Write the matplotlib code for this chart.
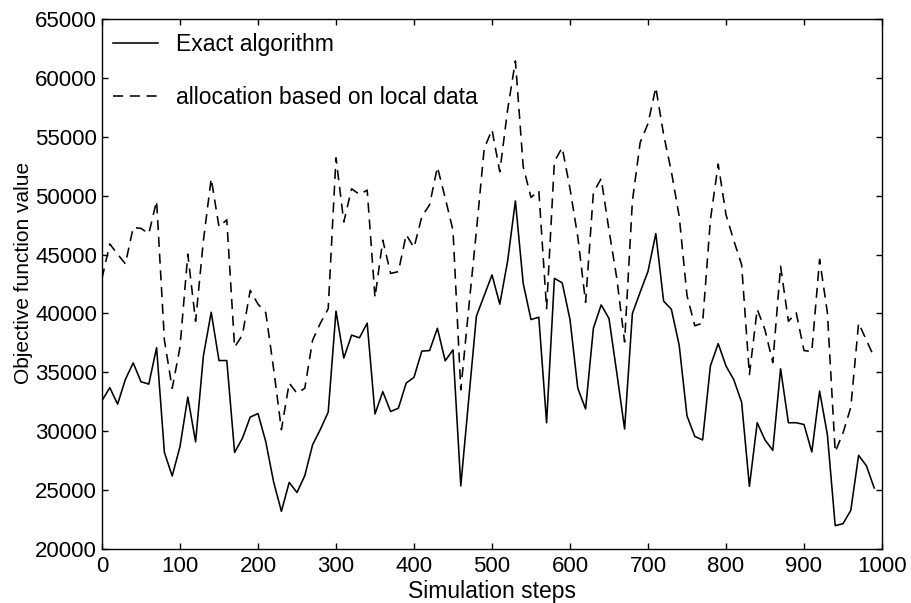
import numpy as np
import matplotlib
matplotlib.use("Agg")
import matplotlib.pyplot as plt

plt.rcParams['font.family'] = ['Liberation Sans', 'DejaVu Sans']

steps = list(range(0, 1000, 10))

exact = [
    32600, 33700, 32300, 34400, 35800, 34200, 34000, 37100, 28200, 26200,
    28700, 32900, 29100, 36400, 40100, 36000, 36000, 28200, 29400, 31200,
    31500, 29100, 25700, 23200, 25650, 24800, 26230, 28850, 30160, 31620,
    40200, 36210, 38160, 37930, 39180, 31470, 33360, 31670, 31960, 34090,
    34580, 36800, 36850, 38740, 35980, 36910, 25360, 32600, 39770, 41520,
    43270, 40790, 44440, 49550, 42550, 39480, 39680, 30720, 42980, 42600,
    39480, 33640, 31890, 38750, 40730, 39570, 34950, 30190, 40000, 41820,
    43570, 46780, 41050, 40350, 37290, 31300, 29560, 29260, 35540, 37440,
    35540, 34370, 32470, 25320, 30720, 29260, 28380, 35300, 30720, 30720,
    30570, 28240, 33410, 29700, 21980, 22150, 23280, 27950, 27070, 25180,
]

local = [
    42980, 45900, 45030, 44210, 47300, 47220, 46780, 49550, 37730, 33640,
    37140, 45030, 39330, 46190, 51450, 47360, 47950, 37140, 38160, 41960,
    40790, 40060, 35300, 30130, 34090, 33220, 33650, 37730, 39180, 40400,
    53210, 47770, 50590, 50100, 50470, 41360, 46220, 43400, 43550, 46690,
    45590, 48210, 49230, 52430, 49810, 47050, 33510, 40350, 47000, 54000,
    55600, 52030, 57290, 61440, 52470, 49850, 50430, 40410, 52910, 54080,
    50600, 46490, 40940, 50280, 51450, 47070, 42980, 37580, 49550, 54520,
    56120, 59190, 55200, 52030, 48240, 41520, 38950, 39180, 47950, 52680,
    48380, 46190, 44150, 34810, 40360, 38600, 35830, 44000, 39330, 40060,
    36850, 36760, 44590, 40060, 28240, 29850, 32030, 39180, 37730, 36270,
]

xticks = list(range(0, 1001, 100))
yticks = list(range(20000, 65001, 5000))

fig = plt.figure(figsize=(9.12, 6.03), dpi=100)
ax = fig.add_axes([102/912, 54/603, 780/912, 530/603])

ax.plot(steps, exact, color='black', lw=1.15, label='Exact algorithm')
ax.plot(steps, local, color='black', lw=1.15, dashes=(6.3, 4.2),
        label='allocation based on local data')

ax.set_xlim(0, 1000)
ax.set_ylim(20000, 65000)
ax.set_xticks(xticks)
ax.set_yticks(yticks)
ax.set_xticklabels([str(t) for t in xticks])
ax.set_yticklabels([str(t) for t in yticks])

ax.tick_params(direction='in', length=4, width=1.0, top=True, right=True,
               labelsize=16, pad=5)
ax.tick_params(axis='y', pad=3.5)
for s in ax.spines.values():
    s.set_linewidth(1.0)

ax.set_xlabel('Simulation steps', fontsize=16.5, va='top')
ax.set_ylabel('Objective function value', fontsize=15)
ax.xaxis.set_label_coords(0.5, -0.058)
ax.yaxis.set_label_coords(-0.088, 0.52)

leg = ax.legend(loc='upper left', bbox_to_anchor=(0.0141, 0.973), frameon=False,
                fontsize=16.5, handlelength=1.97, handletextpad=0.79,
                labelspacing=1.3, borderaxespad=0.0, borderpad=0.0)

fig.savefig('out.png', dpi=100)
